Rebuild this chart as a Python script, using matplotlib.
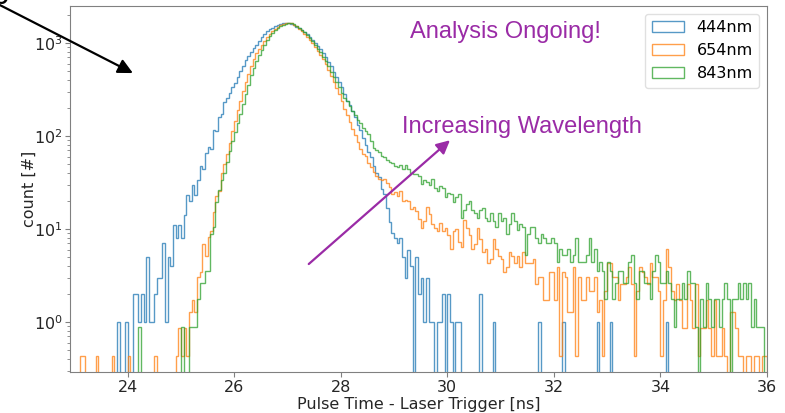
import matplotlib.pyplot as plt
import numpy as np

# binning (0.05 ns bins from 22.90 to 36.00 ns)
bin_edges = np.round(np.arange(22.90, 36.001, 0.05), 2)
bin_centers = 0.5 * (bin_edges[:-1] + bin_edges[1:])

labels = ['444nm', '654nm', '843nm']
colors = ['tab:blue', 'tab:orange', 'tab:green']
# each series scaled so that the peaks line up
scales = [1.0, 0.43, 0.88]

# raw counts per bin
counts_444 = ([0] * 18 + [
    1, 0, 0, 1, 0, 0, 2, 2, 1, 2,
    1, 5, 1, 1, 2, 3, 3, 7, 1, 5,
    4, 11, 8, 11, 8, 14, 23, 20, 30, 23,
    34, 47, 44, 65, 76, 72, 115, 112, 160, 174,
    230, 256, 290, 340, 370, 430, 505, 560, 650, 720,
    800, 890, 960, 1060, 1170, 1250, 1340, 1400, 1460, 1520,
    1570, 1610, 1625, 1640, 1650, 1620, 1560, 1500, 1440, 1380,
    1300, 1250, 1160, 1080, 1010, 930, 860, 790, 700, 630,
    565, 490, 430, 380, 340, 280, 240, 215, 185, 162,
    130, 115, 95, 80, 68, 60, 47, 40, 36, 27,
    24, 17, 12, 9, 8, 7, 8, 5, 3, 6,
    4, 0, 5, 2, 3, 1, 3, 1, 1, 0,
    1, 1, 2, 0, 2, 1, 0, 1, 1]
    + [0] * 7 + [2] + [0] * 4 + [1] + [0] * 16 + [1] + [0] * 8 + [1]
    + [0] * 12 + [1] + [0] * 4 + [1] + [0] * 20 + [1] + [0] * 37)

counts_654 = ([0] * 4 + [1, 1] + [0] * 4 + [1] + [0] * 5 + [1] + [0] * 5 + [1]
    + [0] * 9 + [1] + [0] * 7 + [
    1, 2, 1, 2, 1, 3, 4, 3, 7, 8,
    16, 12, 19, 22, 35, 52, 60, 93, 115, 150,
    195, 260, 340, 440, 560, 700, 880, 1090, 1300, 1560,
    1800, 1990, 2200, 2460, 2680, 2900, 3120, 3260, 3450, 3600,
    3700, 3780, 3830, 3790, 3660, 3500, 3320, 3100, 2900, 2700,
    2520, 2300, 2100, 1900, 1720, 1560, 1380, 1200, 1020, 880,
    760, 650, 560, 450, 390, 330, 275, 240, 200, 170,
    150, 140, 120, 108, 95, 86, 80, 78, 80, 72,
    66, 56, 58, 52, 60, 46, 48, 46, 38, 40,
    36, 30, 24, 28, 40, 34, 26, 24, 22, 27,
    22, 24, 20, 14, 22, 23, 17, 15, 29, 24,
    20, 14, 16, 24, 18, 13, 14, 10, 11, 18,
    14, 12, 11, 8, 9, 13, 12, 10, 12, 9,
    13, 10, 10, 10, 11, 6, 7, 7, 4, 4,
    8, 8, 4, 9, 1,
    8, 7, 3, 3, 9, 1, 7, 4, 4, 7,
    5, 5, 7, 3, 4, 1, 5, 10, 10, 7,
    7, 4, 6, 6, 7, 9, 6, 1, 5, 9,
    8, 7, 6, 10, 7, 7, 5, 1, 4, 14,
    9, 5, 4, 6, 4, 2, 2, 6, 4, 2,
    6, 1, 2, 2, 4, 2, 1, 4, 1, 1,
    2, 1, 0, 3, 3, 2, 1, 1, 0, 1,
    1, 0, 1, 1, 0, 1, 1])

counts_843 = ([0] * 26 + [1] + [0] * 15 + [
    1, 0, 0, 1, 1, 1, 2, 3, 3, 4,
    4, 10, 12, 22, 30, 38, 45, 60, 78, 100,
    125, 155, 195, 250, 320, 400, 510, 610, 730, 850,
    960, 1080, 1220, 1340, 1450, 1560, 1640, 1720, 1790, 1840,
    1870, 1850, 1810, 1740, 1660, 1570, 1480, 1380, 1280, 1180,
    1080, 990, 900, 810, 720, 640, 560, 490, 430, 380,
    330, 290, 270, 240, 210, 190, 170, 155, 140, 128,
    118, 100, 85, 80, 76, 70, 68, 62, 60, 58,
    54, 53, 56, 50, 55, 50, 46, 44, 44, 42,
    35, 38, 36, 34, 39, 31, 29, 33, 31, 25,
    28, 27, 22, 25, 27, 15, 18, 21, 23, 18,
    17, 15, 18, 19, 15, 14, 17, 14, 12, 17,
    14, 15, 10, 13, 17, 14, 11, 13, 12, 6,
    10, 12, 12, 9, 8, 10, 9, 8, 8, 9,
    8, 5, 7,
    6, 6, 7, 5, 6, 9, 5, 5, 5, 6,
    9, 5, 7, 4, 5, 4, 2, 5, 4, 2,
    3, 4, 4, 3, 3, 5, 6, 3, 2, 4,
    4, 3, 3, 2, 4, 6, 5, 3, 3, 4,
    3, 2, 1, 2, 2, 3, 2, 4, 3, 3,
    1, 0, 2, 1, 3, 2, 1, 2, 2, 1,
    2, 3, 2, 0, 2, 2, 3, 2, 3, 2,
    3, 1, 2, 1, 1, 1, 0])

purple = '#9a2ba6'

fig = plt.figure(figsize=(7.85, 4.13), dpi=100)
ax = fig.add_axes([0.0892, 0.0993, 0.8879, 0.8862])

for counts, s, lab, c in zip([counts_444, counts_654, counts_843], scales, labels, colors):
    ax.hist(bin_centers, bins=bin_edges, weights=np.array(counts) * s,
            histtype='step', color=c, alpha=0.75, lw=1, label=lab, log=True)

ax.set_xlim(22.92, 36)
ax.set_ylim(0.29, 2500)
ax.set_xticks([24, 26, 28, 30, 32, 34, 36])
ax.set_xlabel('Pulse Time - Laser Trigger [ns]', fontsize=11.5, color='0.15', labelpad=1.5)
ax.set_ylabel('count [#]', fontsize=11.5, color='0.15', labelpad=-2)

for sp in ax.spines.values():
    sp.set_color('0.5')
ax.tick_params(which='both', colors='0.5', labelcolor='0.15', labelsize=11.5, pad=2)

leg = ax.legend(loc='upper right', fontsize=11.5, edgecolor='0.85')

# annotations
ax.text(0.624, 0.929, 'Analysis Ongoing!', transform=ax.transAxes, color=purple,
        fontsize=17, family='Liberation Sans', ha='center', va='center')
ax.text(0.649, 0.669, 'Increasing Wavelength', transform=ax.transAxes, color=purple,
        fontsize=17, family='Liberation Sans', ha='center', va='center')
ax.annotate('', xy=(30.05, 90), xytext=(27.40, 4.2),
            arrowprops=dict(arrowstyle='-|>', color=purple, lw=1.6,
                            mutation_scale=20, shrinkA=0, shrinkB=0))

# black arrow coming in from the (cropped) left side
ax.annotate('', xy=(24.10, 475), xycoords='data',
            xytext=(-10, 413), textcoords='figure pixels',
            arrowprops=dict(arrowstyle='-|>', color='black', lw=1.6,
                            mutation_scale=22, shrinkA=0, shrinkB=0))
fig.text(0.011, 0.990, 'b', fontsize=20, ha='right', va='baseline', color='black')

fig.savefig('out.png', dpi=100)
